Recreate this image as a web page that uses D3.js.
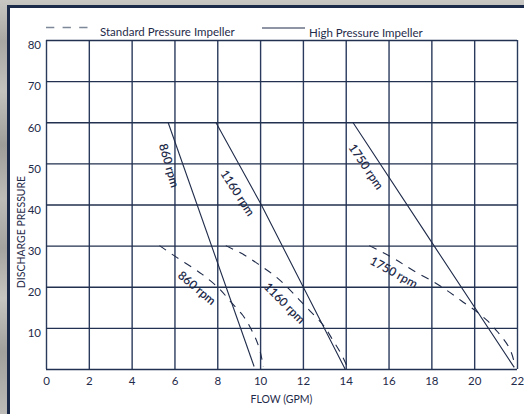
<!DOCTYPE html>
<html><head><meta charset="utf-8">
<script src="https://cdn.jsdelivr.net/npm/d3@7"></script>
<style>html,body{margin:0;padding:0;background:#b3b1ae;overflow:hidden}</style>
</head><body>
<svg id="c" width="524" height="414"></svg>
<script>
const xTicks = [0,2,4,6,8,10,12,14,16,18,20,22];
const yTicks = [0,10,20,30,40,50,60,70,80];
const yLabels = [10,20,30,40,50,60,70,80];

// High pressure impeller (solid)
const high860  = [[5.7,60],[9.72,0.6]];
const high1160 = [[7.93,60],[10.05,40],[13.97,0]];
const high1750 = [[14.33,60],[18.12,30],[21.87,0.4]];
// Standard pressure impeller (dashed)
const std860  = [[5.3,30],[6.0,27.5],[7.3,23],[8.1,19.5],[8.6,16.5],[9.2,13],[9.6,9.5],[9.9,6],[10.1,2],[10.15,0.5]];
const std1160 = [[8.4,30],[9.3,27.6],[10.0,25.2],[10.6,23],[11.25,20],[11.8,17],[12.35,14],[12.9,11],[13.4,7],[13.75,4],[14.05,0.8]];
const std1750 = [[15.1,30],[16.0,27.6],[17.3,23.5],[18.1,21.2],[18.7,19.2],[19.4,16.6],[20.1,14],[20.6,11.8],[21.1,9],[21.6,5.5],[21.85,2],[21.9,0.5]];

const labelsHigh = [{t:"860 rpm",x:5.75,y:49.5,a:74},{t:"1160 rpm",x:8.95,y:42.8,a:57},{t:"1750 rpm",x:14.95,y:49.2,a:56}];
const labelsStd  = [{t:"860 rpm",x:7.05,y:19.7,a:40},{t:"1160 rpm",x:11.15,y:16,a:45},{t:"1750 rpm",x:16.25,y:23.5,a:29}];

const svg = d3.select("#c");
const ink = "#1f2b4a";
const FONT = "Lato, 'Open Sans', sans-serif";

// brushed-metal background
const defs = svg.append("defs");
const g1 = defs.append("linearGradient").attr("id","metal").attr("x1",0).attr("y1",0).attr("x2",0).attr("y2",1);
[["0%","#c9c7c4"],["10%","#a9a7a4"],["22%","#c4c2bf"],["35%","#9f9d9a"],["48%","#bebcb9"],["60%","#a5a3a0"],["72%","#c7c5c2"],["85%","#a2a09d"],["100%","#bdbbb8"]]
  .forEach(s=>g1.append("stop").attr("offset",s[0]).attr("stop-color",s[1]));
svg.append("rect").attr("width",524).attr("height",414).attr("fill","url(#metal)");

// white panel with navy border
svg.append("rect").attr("x",8.5).attr("y",6.5).attr("width",530).attr("height",420)
  .attr("fill","#ffffff").attr("stroke","#1c2a4a").attr("stroke-width",3);

const x = d3.scaleLinear().domain([0,22]).range([46,517]);
const y = d3.scaleLinear().domain([0,80]).range([369,40]);

// grid via axes
const gx = svg.append("g").attr("transform",`translate(0,${y(0)})`)
  .call(d3.axisBottom(x).tickValues(xTicks).tickSize(-(y(0)-y(80))).tickPadding(8).tickFormat(d3.format("d")));
gx.select(".domain").remove();
gx.selectAll("line").attr("stroke","#2a3a5c").attr("stroke-width",1.4);
gx.selectAll("text").attr("fill",ink).style("font-family",FONT).style("font-size","11.5px");

const gy = svg.append("g").attr("transform",`translate(${x(0)},0)`)
  .call(d3.axisLeft(y).tickValues(yTicks).tickSize(-(x(22)-x(0))).tickPadding(5)
    .tickFormat(d=>yLabels.includes(d)?d:""));
gy.select(".domain").remove();
gy.selectAll("line").attr("stroke","#22314f").attr("stroke-width",1.4);
gy.selectAll("text").attr("fill",ink).attr("dy","0.85em").attr("y",-1).style("font-family",FONT).style("font-size","11.5px");

// curves
const line = d3.line().x(d=>x(d[0])).y(d=>y(d[1]));
const curve = d3.line().x(d=>x(d[0])).y(d=>y(d[1])).curve(d3.curveMonotoneY);
[high860,high1160,high1750].forEach(s=>{
  svg.append("path").datum(s).attr("d",line).attr("fill","none").attr("stroke",ink).attr("stroke-width",1.1);
});
[std860,std1160,std1750].forEach(s=>{
  svg.append("path").datum(s).attr("d",curve).attr("fill","none").attr("stroke",ink).attr("stroke-width",1.1).attr("stroke-dasharray","8,7");
});

// curve labels
labelsHigh.concat(labelsStd).forEach(l=>{
  svg.append("text").attr("transform",`translate(${x(l.x)},${y(l.y)}) rotate(${l.a})`)
    .attr("text-anchor","middle").attr("dy","0.35em")
    .attr("fill",ink).style("font-family",FONT).style("font-size","12px").style("font-weight","600").text(l.t);
});

// legend
svg.append("line").attr("x1",46).attr("x2",88).attr("y1",27.5).attr("y2",27.5)
  .attr("stroke","#7d8899").attr("stroke-width",1.4).attr("stroke-dasharray","8.3,8.3");
svg.append("text").attr("x",100).attr("y",36).attr("fill",ink).style("font-family",FONT).style("font-size","11.5px").text("Standard Pressure Impeller");
svg.append("line").attr("x1",262).attr("x2",305).attr("y1",28).attr("y2",28)
  .attr("stroke",ink).attr("stroke-width",1);
svg.append("text").attr("x",309).attr("y",37).attr("fill",ink).style("font-family",FONT).style("font-size","11.5px").text("High Pressure Impeller");

// axis titles
svg.append("text").attr("x",(x(0)+x(22))/2).attr("y",403).attr("text-anchor","middle")
  .attr("fill",ink).style("font-family",FONT).style("font-size","10.5px").text("FLOW (GPM)");
svg.append("text").attr("transform",`translate(25,232) rotate(-90)`).attr("text-anchor","middle")
  .attr("fill",ink).style("font-family",FONT).style("font-size","10.5px").text("DISCHARGE PRESSURE");
</script>
</body></html>
